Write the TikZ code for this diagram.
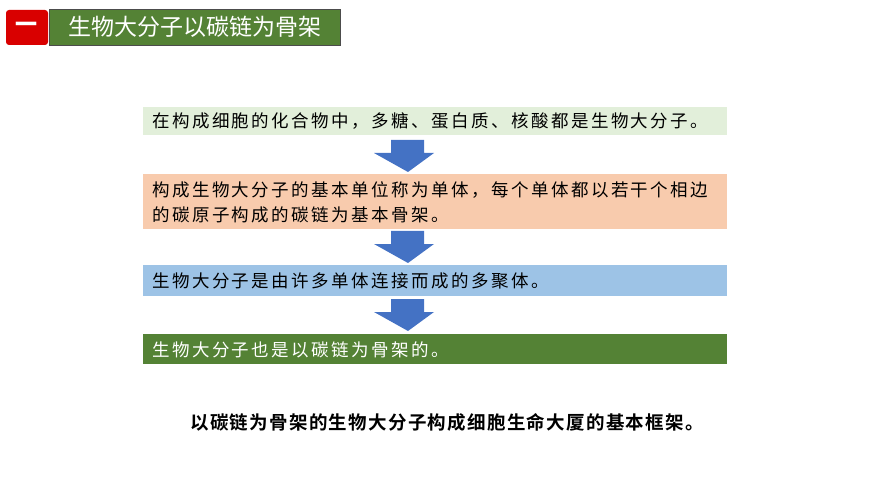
\documentclass[tikz,border=0pt]{standalone}
\usepackage{fontspec}
\newfontfamily\cjk{Noto Sans CJK SC}
\newfontfamily\cjkwide[LetterSpace=14]{Noto Sans CJK SC}
\newfontfamily\cjkbold[LetterSpace=7]{Noto Sans CJK SC Bold}
\usetikzlibrary{positioning}
\definecolor{titlegreen}{HTML}{548235}
\definecolor{boxgreen}{HTML}{E2EFDA}
\definecolor{boxpeach}{HTML}{F8CBAD}
\definecolor{boxblue}{HTML}{9DC3E6}
\definecolor{arrowblue}{HTML}{4472C4}
% block arrow pointing down, top centre at (#1,#2)
\newcommand{\downarrowat}[2]{%
        \fill[arrowblue] (#1-17,#2) -- (#1+16,#2) -- (#1+16,#2+13) -- (#1+26,#2+13)
                -- (#1,#2+32) -- (#1-34,#2+13) -- (#1-17,#2+13) -- cycle;}

\begin{document}
\begin{tikzpicture}[x=1pt,y=-1pt,
                every node/.style={font=\cjk}]
        \tikzset{
                textbox/.style = {anchor=west, inner sep=0pt, align=left,
                                font=\cjkwide\fontsize{17.5}{25}\selectfont}
        }
        \useasboundingbox (0,0) rectangle (870,489);
        % title
        \fill[red!85!black, rounded corners=3pt] (6,10) rectangle (48,45);
        \node[text=white, font=\cjk\bfseries\fontsize{22}{22}\selectfont] (num) at (27,27) {一};
        \node[draw=gray!60!black, fill=titlegreen, text=white, anchor=north west,
                minimum width=291pt, minimum height=36pt,
                font=\cjk\fontsize{23}{23}\selectfont] (title) at (49,9) {生物大分子以碳链为骨架};

        % boxes
        \fill[boxgreen] (143,107) rectangle (727,135);
        \node[textbox] (b1) at (152,121) {在构成细胞的化合物中，多糖、蛋白质、核酸都是生物大分子。};
        \fill[boxpeach] (143,174) rectangle (727,229);
        \node[textbox] (b2) at (152,202) {构成生物大分子的基本单位称为单体，每个单体都以若干个相边\\的碳原子构成的碳链为基本骨架。};
        \fill[boxblue] (143,265) rectangle (727,296);
        \node[textbox] (b3) at (152,281) {生物大分子是由许多单体连接而成的多聚体。};
        \fill[titlegreen] (143,334) rectangle (727,364);
        \node[textbox, text=white] (b4) at (152,350) {生物大分子也是以碳链为骨架的。};

        % arrows
        \downarrowat{408}{140}
        \downarrowat{408}{231}
        \downarrowat{408}{299}

        \node[font=\cjkbold\fontsize{18.5}{18.5}\selectfont] (sum) at (447,422)
                {以碳链为骨架的生物大分子构成细胞生命大厦的基本框架。};
\end{tikzpicture}
\end{document}
